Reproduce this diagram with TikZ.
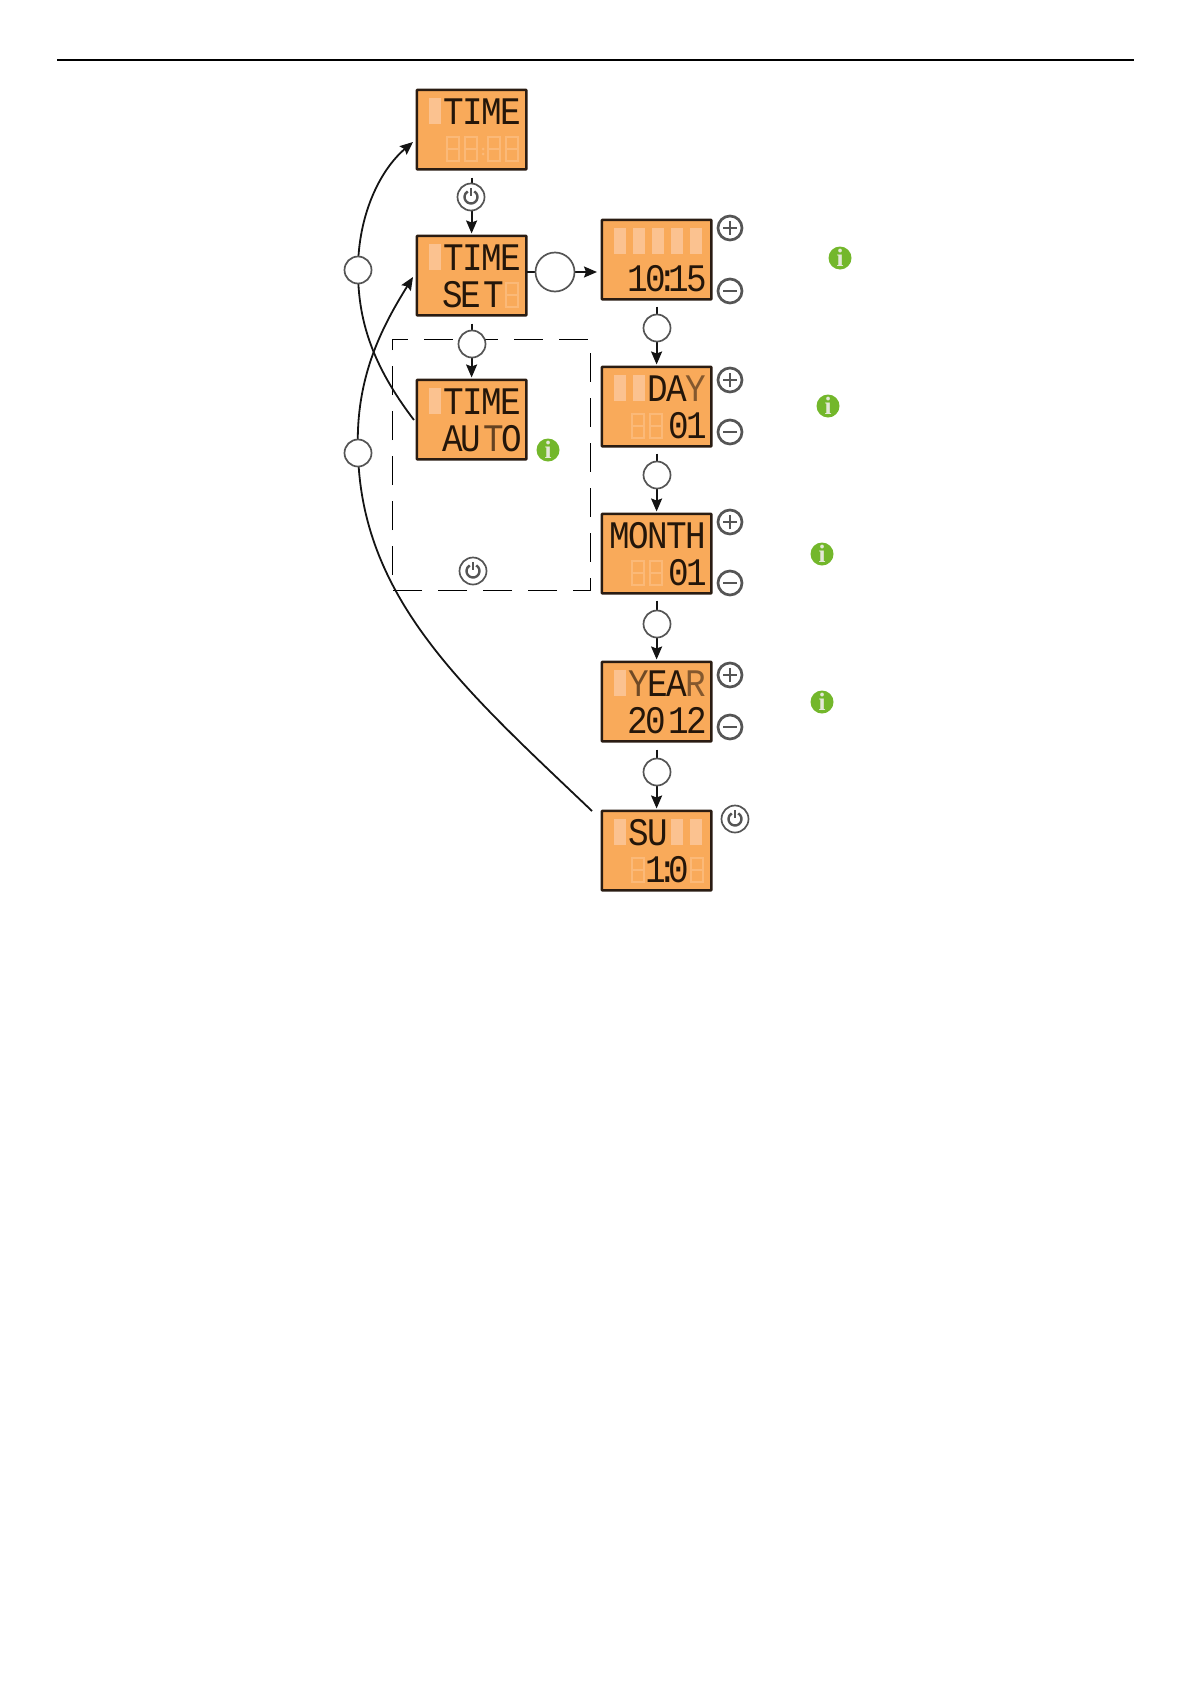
\documentclass[tikz,border=0pt]{standalone}
\usepackage{fontspec}
\usetikzlibrary{arrows.meta}
\newfontfamily\lcdfont[FakeStretch=0.88]{Liberation Mono}
\newfontfamily\infofont{Liberation Serif}
\definecolor{lcdfill}{HTML}{F9AA5A}
\definecolor{lcdedge}{HTML}{2A1C12}
\definecolor{lcdtext}{HTML}{24160A}
\definecolor{lcdghost}{HTML}{FBC290}
\definecolor{lcdghostline}{HTML}{FBB978}
\definecolor{ringgray}{HTML}{555555}
\definecolor{infogreen}{HTML}{73B72B}
\definecolor{infotext}{HTML}{E4E8D8}
\newcommand\tcell[1]{\makebox[19pt]{#1}}
\newcommand\bcell[1]{\makebox[18pt]{#1}}
\newcommand\rowT[5]{\tcell{#1}\tcell{#2}\tcell{#3}\tcell{#4}\tcell{#5}}
\newcommand\rowB[5]{\bcell{#1}\bcell{#2}\makebox[5pt]{#3}\bcell{#4}\bcell{#5}}
\tikzset{
  lcdscreen/.style={draw=lcdedge,fill=lcdfill,line width=2.6pt,rounded corners=0.8pt,minimum width=109.6pt,minimum height=79.6pt,inner sep=0pt,anchor=north west},
  lcdtxt/.style={inner sep=0pt,anchor=base west,text=lcdtext,font=\lcdfont\fontsize{39}{39}\selectfont},
  conn/.style={draw=black!92,line width=1.8pt},
  flow/.style={conn,-{Stealth[length=13pt,width=11pt,inset=2pt]}},
  bubble/.style={circle,draw=ringgray,fill=white,line width=1.7pt,minimum size=27pt,inner sep=0pt},
  bigbubble/.style={bubble,minimum size=39pt},
  powerbtn/.style={bubble},
  adjbtn/.style={circle,draw=ringgray,fill=white,line width=2.7pt,minimum size=24pt,inner sep=0pt},
  infodot/.style={circle,fill=infogreen,text=infotext,minimum size=23pt,inner sep=0pt,font=\infofont\bfseries\fontsize{25}{25}\selectfont},
  framebox/.style={draw=black,line width=0.9pt,dash pattern=on 29pt off 16pt,dash phase=13pt}
}
% name, left, top, top ghosts, bottom ghosts, top text, bottom text
\newcommand\lcdpanel[7]{%
  \node[lcdscreen] (#1) at (#2-0.5,#3-0.5) {};
  \begin{scope}[shift={(#2,#3)}]
    \foreach \gx in {#4} {\fill[lcdghost] (\gx-6,9) rectangle (\gx+6,35);}
    \foreach \gx in {#5} {\draw[lcdghostline,line width=1.1pt] (\gx-6,48) rectangle (\gx+6,72) (\gx-6,60) -- (\gx+6,60);}
    \node[lcdtxt] (#1t) at (9.5,35) {#6};
    \node[lcdtxt] (#1b) at (28,72) {#7};
  \end{scope}}
\newcommand\powersign[1]{%
  \draw[ringgray,line width=2.4pt] ([shift={(60:6.5pt)}]#1.center) arc[start angle=60,end angle=-240,radius=6.5pt];
  \draw[ringgray,line width=2.2pt] ([yshift=9pt]#1.center) -- ([yshift=1pt]#1.center);}
\newcommand\plussign[1]{%
  \draw[ringgray,line width=2.4pt] ([xshift=-7pt]#1.center) -- ([xshift=7pt]#1.center) ([yshift=-7pt]#1.center) -- ([yshift=7pt]#1.center);}
\newcommand\minussign[1]{%
  \draw[ringgray,line width=2.4pt] ([xshift=-7pt]#1.center) -- ([xshift=7pt]#1.center);}
\begin{document}
\begin{tikzpicture}[x=1pt,y=-1pt]
\useasboundingbox (0,0) rectangle (1191,1684);
\coordinate (ruleL) at (57,60);
\coordinate (ruleR) at (1134,60);
\draw[black,line width=1.3pt] (ruleL) -- (ruleR);

% dashed frame
\draw[framebox] (392,339) -- (590,339) -- (590,590) -- (392,590) -- cycle;

% screens
\lcdpanel{timeS}{416}{89}{19}{37,55,78,96}{\rowT{}{T}{I}{M}{E}}{\rowB{}{}{}{}{}}
\lcdpanel{setS}{416}{235}{19}{96}{\rowT{}{T}{I}{M}{E}}{\rowB{S}{E}{}{T}{}}
\lcdpanel{autoS}{416}{379}{19}{}{\rowT{}{T}{I}{M}{E}}{\rowB{A}{U}{}{\textcolor{lcdtext!70!lcdfill}{T}}{O}}
\lcdpanel{clockS}{601}{219}{19,38,57,76,95}{}{\rowT{}{}{}{}{}}{\rowB{1}{0}{:}{1}{5}}
\lcdpanel{dayS}{601}{366}{19,38}{37,55}{\rowT{}{}{D}{A}{\textcolor{lcdtext!55!lcdfill}{Y}}}{\rowB{}{}{}{0}{1}}
\lcdpanel{monthS}{601}{513}{}{37,55}{\rowT{M}{O}{N}{T}{H}}{\rowB{}{}{}{0}{1}}
\lcdpanel{yearS}{601}{661}{19}{}{\rowT{}{\textcolor{lcdtext!65!lcdfill}{Y}}{E}{A}{\textcolor{lcdtext!55!lcdfill}{R}}}{\rowB{2}{0}{}{1}{2}}
\lcdpanel{sunS}{601}{810}{19,76,95}{37,96}{\rowT{}{S}{U}{}{}}{\rowB{}{1}{:}{0}{}}
\fill[lcdghostline] (483,137+12) circle (1.5pt) (483,137+17) circle (1.5pt);

% named free ends of the curves and the side arrow
\coordinate (timeIn) at (413,142);
\coordinate (setIn) at (413,277);
\coordinate (sunOut) at (592,811);
\coordinate (autoOut) at (414,420);
\coordinate (setOut) at (527,272);
\coordinate (clockIn) at (597,272);

% circles on the connectors
\coordinate (leftA) at (358,270);
\coordinate (leftB) at (358,453);

% return curves
\draw[flow] (autoOut) .. controls (372,365) and (358,320) .. (leftA) .. controls (358,215) and (380,170) .. (timeIn);
\draw[flow] (sunOut) .. controls (465,690) and (362,600) .. (leftB) .. controls (355,380) and (380,330) .. (setIn);

% vertical and horizontal connectors
\draw[flow,shorten <=7pt,shorten >=1pt] (timeS.south) -- (setS.north);
\draw[flow,shorten <=7pt,shorten >=1pt] (setS.south) -- (autoS.north);
\draw[flow] (setOut) -- (clockIn);
\draw[flow,shorten <=6pt,shorten >=1pt] (clockS.south) -- (dayS.north);
\draw[flow,shorten <=6pt,shorten >=1pt] (dayS.south) -- (monthS.north);
\draw[flow,shorten <=6pt,shorten >=1pt] (monthS.south) -- (yearS.north);
\draw[flow,shorten <=7pt,shorten >=1pt] (yearS.south) -- (sunS.north);

% bubbles on top
\node[bubble] (leftAtop) at (leftA) {};
\node[bubble] (leftBtop) at (leftB) {};
\node[powerbtn] (powTop) at (471,197) {};
\powersign{powTop}
\node[bigbubble] (bigB) at (555,272) {};
\node[bubble] (autoB) at (472,344) {};
\node[bubble] (clockB) at (657,328) {};
\node[bubble] (dayB) at (657,475) {};
\node[bubble] (monthB) at (657,624) {};
\node[bubble] (yearB) at (657,772) {};
\node[powerbtn] (powBox) at (473,571) {};
\powersign{powBox}
\node[powerbtn] (powSun) at (735,819) {};
\powersign{powSun}

% plus and minus buttons
\node[adjbtn] (p1) at (730,228) {}; \plussign{p1}
\node[adjbtn] (m1) at (730,291) {}; \minussign{m1}
\node[adjbtn] (p2) at (730,380) {}; \plussign{p2}
\node[adjbtn] (m2) at (730,432) {}; \minussign{m2}
\node[adjbtn] (p3) at (730,522) {}; \plussign{p3}
\node[adjbtn] (m3) at (730,583) {}; \minussign{m3}
\node[adjbtn] (p4) at (730,675) {}; \plussign{p4}
\node[adjbtn] (m4) at (730,727) {}; \minussign{m4}

% information marks
\node[infodot] (i0) at (548,450) {i};
\node[infodot] (i1) at (840,258) {i};
\node[infodot] (i2) at (828,406) {i};
\node[infodot] (i3) at (822,554) {i};
\node[infodot] (i4) at (822,702) {i};
\end{tikzpicture}
\end{document}
